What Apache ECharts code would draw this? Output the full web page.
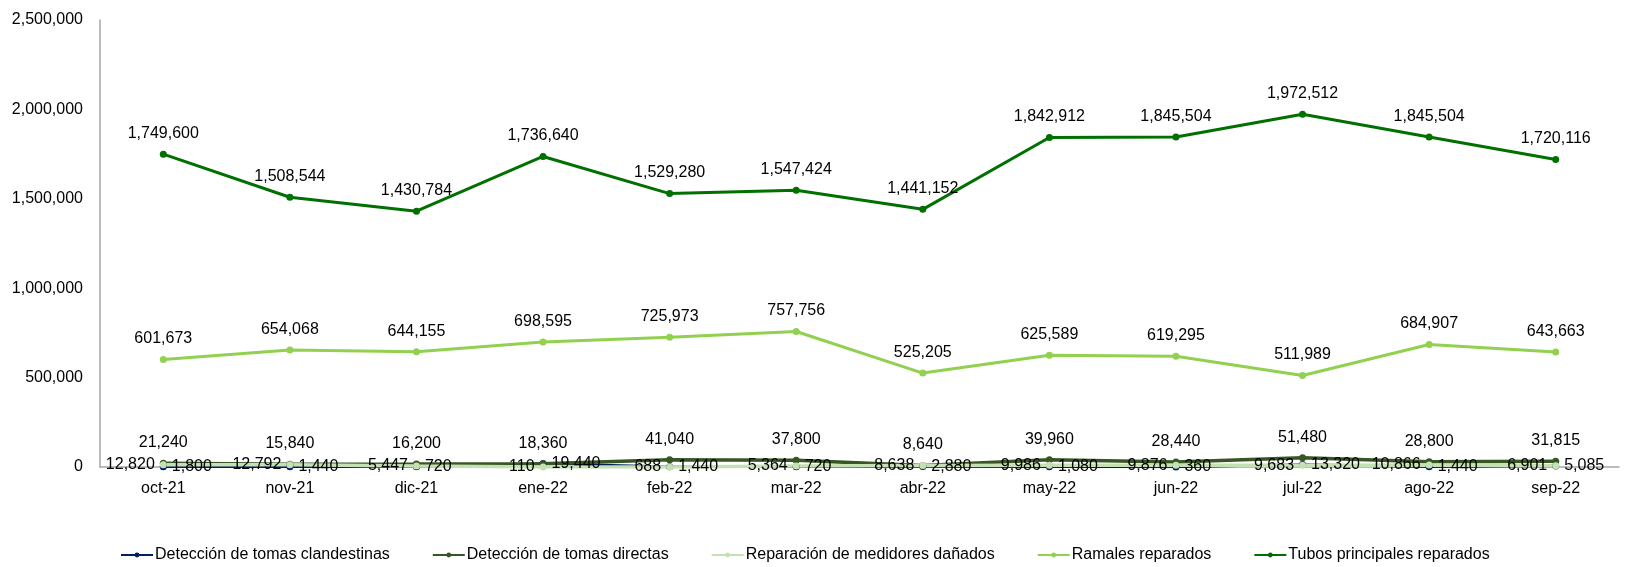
<!DOCTYPE html>
<html>
<head>
<meta charset="utf-8">
<script src="https://cdn.jsdelivr.net/npm/echarts@6/dist/echarts.min.js"></script>
<style>
html,body{margin:0;padding:0;background:#fff;}
#chart{width:1632px;height:567px;}
</style>
</head>
<body>
<div id="chart"></div>
<script>
// Monthly categories
const months = ['oct-21','nov-21','dic-21','ene-22','feb-22','mar-22','abr-22','may-22','jun-22','jul-22','ago-22','sep-22'];

// Series values
const clandestinas = [1800, 1440, 720, 19440, 1440, 720, 2880, 1080, 360, 13320, 1440, 5085];
const directas = [21240, 15840, 16200, 18360, 41040, 37800, 8640, 39960, 28440, 51480, 28800, 31815];
const medidores = [12820, 12792, 5447, 110, 688, 5364, 8638, 9986, 9876, 9683, 10866, 6901];
const ramales = [601673, 654068, 644155, 698595, 725973, 757756, 525205, 625589, 619295, 511989, 684907, 643663];
const tubos = [1749600, 1508544, 1430784, 1736640, 1529280, 1547424, 1441152, 1842912, 1845504, 1972512, 1845504, 1720116];

// Y axis ticks
const yTicks = { min: 0, max: 2500000, interval: 500000 };

const FONT = '"Liberation Sans", Arial, sans-serif';
const fmt = v => Number(v).toLocaleString('en-US');

function lineSeries(name, data, color, pos, width) {
  return {
    name, type: 'line', data,
    symbol: 'circle', symbolSize: 7,
    lineStyle: { color, width: width },
    itemStyle: { color },
    label: {
      show: true, position: pos, distance: pos === 'top' ? 9 : 5,
      color: '#000', fontFamily: FONT, fontSize: 16,
      formatter: p => fmt(p.value)
    },
    emphasis: { disabled: true },
    animation: false
  };
}

const chart = echarts.init(document.getElementById('chart'), null, { renderer: 'canvas' });
chart.setOption({
  backgroundColor: '#fff',
  animation: false,
  grid: { left: 100, right: 13, top: 20, bottom: 100 },
  legend: {
    top: 547, left: 120, padding: 0, itemGap: 42, itemWidth: 32, itemHeight: 6,
    textStyle: { fontFamily: FONT, fontSize: 16, color: '#000', padding: [0, 0, 0, -3] },
    data: ['Detección de tomas clandestinas','Detección de tomas directas','Reparación de medidores dañados','Ramales reparados','Tubos principales reparados']
  },
  xAxis: {
    type: 'category', data: months, boundaryGap: true,
    axisLine: { lineStyle: { color: '#a6a6a6', width: 1.5 } },
    axisTick: { show: false },
    axisLabel: { color: '#000', fontFamily: FONT, fontSize: 16, margin: 14 }
  },
  yAxis: {
    type: 'value', min: yTicks.min, max: yTicks.max, interval: yTicks.interval,
    axisLine: { show: true, lineStyle: { color: '#a6a6a6', width: 1.5 } },
    axisTick: { show: false },
    splitLine: { show: false },
    axisLabel: { color: '#000', fontFamily: FONT, fontSize: 16, margin: 17, formatter: fmt }
  },
  series: [
    lineSeries('Detección de tomas clandestinas', clandestinas, '#002060', 'right', 2.5),
    lineSeries('Detección de tomas directas', directas, '#375623', 'top', 3.5),
    lineSeries('Reparación de medidores dañados', medidores, '#C5E0B4', 'left', 3.5),
    lineSeries('Ramales reparados', ramales, '#92D050', 'top', 3),
    lineSeries('Tubos principales reparados', tubos, '#007000', 'top', 3)
  ]
});
</script>
</body>
</html>
